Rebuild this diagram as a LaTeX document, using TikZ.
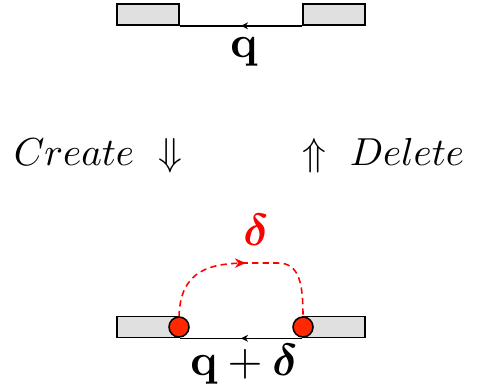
\documentclass[tikz,border=0pt]{standalone}
\usepackage{amsmath}
\usepackage{xcolor}
\usepackage{tikz}
\usetikzlibrary{positioning,arrows.meta,decorations.markings}

\definecolor{barfill}{RGB}{224,224,224}
\definecolor{dotred}{RGB}{255,40,0}

\tikzset{
    bar/.style={draw, fill=barfill, minimum width=62*0.009cm, minimum height=21*0.009cm, inner sep=0pt},
    dot/.style={circle, draw, fill=dotred, minimum size=20*0.009cm, inner sep=0pt},
    midarrow/.style={decoration={markings, mark=at position #1 with {\arrow{Stealth[length=1.8pt,width=1.8pt]}}}, postaction={decorate}},
    redarrow/.style={decoration={markings, mark=at position #1 with {\arrow{Stealth[length=2.8pt,width=2.4pt]}}}, postaction={decorate}},
    lbl/.style={inner sep=0pt},
    biglbl/.style={inner sep=0pt, scale=1.15}
}

\begin{document}
\begin{tikzpicture}[x=0.009cm, y=-0.009cm]
    \useasboundingbox (0,0) rectangle (480,391);

    % before
    \node[bar] (tl) at (148,14.5) {};
    \node[bar] (tr) at (334,14.5) {};
    \draw[midarrow=0.5] (tr.south west) -- (tl.south east);
    \node[biglbl, anchor=base] (q) at (244,57) {$\mathbf{q}$};

    % operations
    \node[lbl, anchor=base west] (create) at (13,165) {$Create\ \Downarrow$};
    \node[lbl, anchor=base east] (delete) at (465,165) {$\Uparrow\ Delete$};

    % after
    \node[bar] (bl) at (148,327) {};
    \node[bar] (br) at (334,327) {};
    \draw[midarrow=0.5] (br.south west) -- (bl.south east);
    \draw[dashed, dash pattern=on 1.6pt off 1.1pt, red, redarrow=0.5] (179,317) .. controls (180,270) and (210,263) .. (248,263)
        -- (278,263) .. controls (300,263) and (303,285) .. (303,317);
    \node[dot] (cl) at (179,327) {};
    \node[dot] (cr) at (303,327) {};
    \node[biglbl, anchor=base, red] (d) at (256,245) {$\boldsymbol{\delta}$};
    \node[biglbl, anchor=base] (qd) at (244,375) {$\mathbf{q}+\boldsymbol{\delta}$};
\end{tikzpicture}
\end{document}
